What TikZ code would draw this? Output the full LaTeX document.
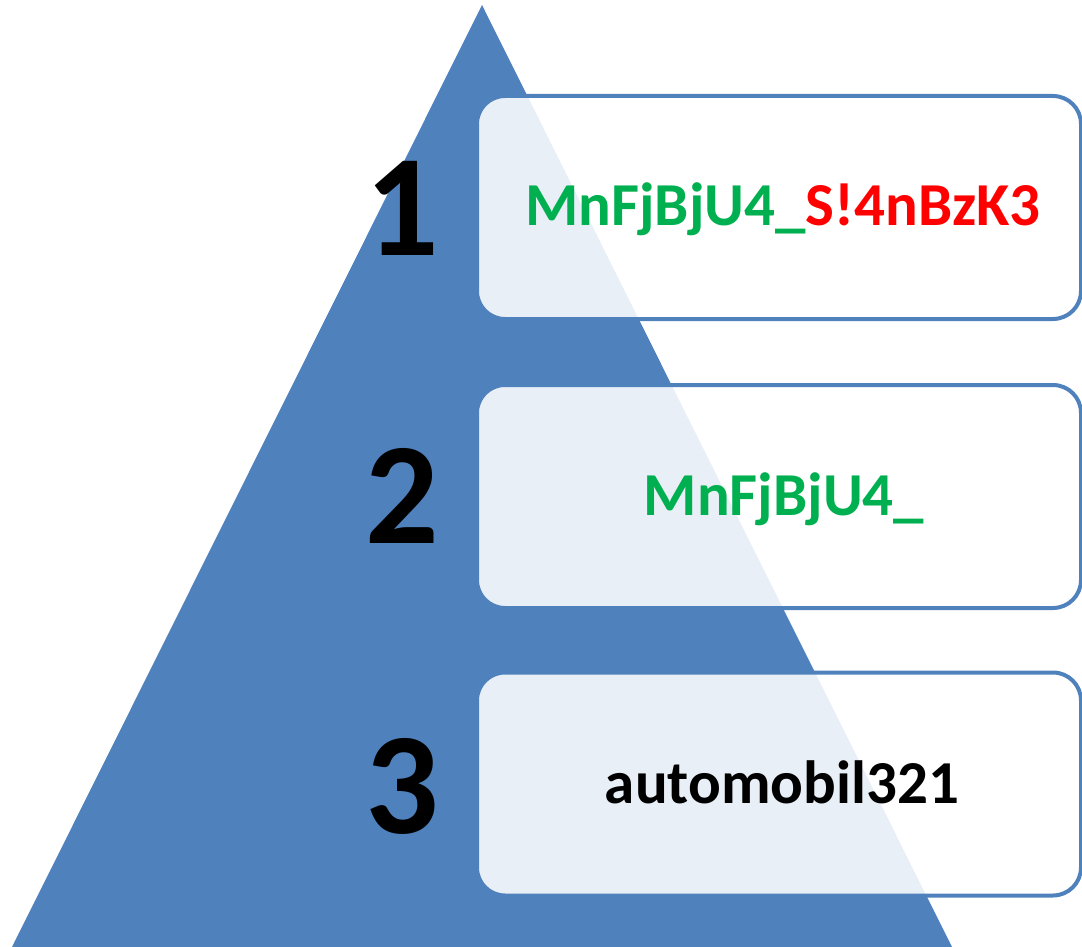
\documentclass[tikz,border=0pt]{standalone}
\usepackage{fontspec}
\setmainfont{Carlito}
\definecolor{pyrblue}{HTML}{4F81BD}
\definecolor{txtgreen}{HTML}{00B050}
\definecolor{txtred}{HTML}{FF0000}
\begin{document}
\begin{tikzpicture}[x=1pt,y=-1pt,
  levelbox/.style={draw=pyrblue, line width=4pt, fill=white, fill opacity=0.88, draw opacity=1,
    rounded corners=28pt, minimum width=604pt, minimum height=223pt, inner sep=0pt, outer sep=0pt},
  levelnum/.style={font=\fontsize{145}{145}\selectfont\bfseries, text=black, anchor=base, inner sep=0pt},
  leveltxt/.style={font=\fontsize{61}{61}\selectfont\bfseries, anchor=base, inner sep=0pt}]
\useasboundingbox (0,0) rectangle (1082,947);
\fill[pyrblue] (482,5) -- (952,947) -- (12,947) -- cycle;
\node[levelbox] (b1) at (779,207.5) {};
\node[levelbox] (b2) at (779,496.5) {};
\node[levelbox] (b3) at (779,784) {};
\node[levelnum] (n1) at (402,255) {1};
\node[levelnum] (n2) at (402,543) {2};
\node[levelnum] (n3) at (402,833) {3};
\node[leveltxt] (t1) at (783,225) {\textcolor{txtgreen}{MnFjBjU4\_}\textcolor{txtred}{S!4nBzK3}};
\node[leveltxt, text=txtgreen] (t2) at (784,515) {MnFjBjU4\_};
\node[leveltxt, text=black] (t3) at (782,803) {automobil321};
\end{tikzpicture}
\end{document}
